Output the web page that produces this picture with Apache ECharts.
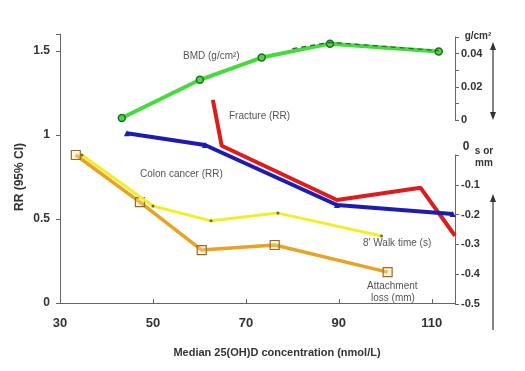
<!DOCTYPE html>
<html>
<head>
<meta charset="utf-8">
<script src="https://cdn.jsdelivr.net/npm/echarts@6/dist/echarts.min.js"></script>
<style>html,body{margin:0;padding:0;background:#fff}#c{width:525px;height:371px}</style>
</head>
<body>
<div id="c"></div>
<script>
// ---- data ----
const xTicks = [30, 50, 70, 90, 110];
const rrTicks = [0, 0.5, 1, 1.5];
const bmdTicks = [0, 0.02, 0.04];
const smmTicks = [-0.1, -0.2, -0.3, -0.4, -0.5];

const bmdX = [43.3, 60.1, 73.4, 88.1, 111.5];
const bmdY = [0.0012, 0.0242, 0.0376, 0.046, 0.0412];
const bmdDashX = [80, 88.1, 111.5];
const bmdDashY = [0.043, 0.0468, 0.0418];

const colonX = [44.4, 61.2, 89.6, 114.5];
const colonY = [1.01, 0.94, 0.583, 0.53];

const fractureX = [62.9, 64.8, 89.6, 107.6, 115];
const fractureY = [1.208, 0.935, 0.613, 0.685, 0.40];

const walkX = [34.7, 50.0, 62.5, 76.9, 99.2];
const walkY = [0.0, -0.171, -0.221, -0.195, -0.272];

const attachX = [33.4, 47.2, 60.5, 76.2, 100.5];
const attachY = [0.0, -0.158, -0.319, -0.302, -0.393];

const pair = (xs, ys) => xs.map((x, i) => [x, ys[i]]);
const near = (v, arr) => arr.some(t => Math.abs(t - v) < 1e-6);

const FONT = 'Liberation Sans';
const AX = '#666';
const TXT = '#333';

const chart = echarts.init(document.getElementById('c'), null, {renderer: 'canvas'});

const arrowLine = (x, y1, y2, up, down) => {
  const els = [{type: 'line', shape: {x1: x, y1: y1, x2: x, y2: y2}, style: {stroke: '#333', lineWidth: 1.2}}];
  if (up) els.push({type: 'polygon', shape: {points: [[x, y1 - 2], [x - 3, y1 + 6], [x + 3, y1 + 6]]}, style: {fill: '#333'}});
  if (down) els.push({type: 'polygon', shape: {points: [[x, y2 + 2], [x - 3, y2 - 6], [x + 3, y2 - 6]]}, style: {fill: '#333'}});
  return els;
};

const lbl = (text, x, y, opts) => Object.assign({
  type: 'text', left: x, top: y,
  style: {text: text, fill: '#555', font: '10px "' + FONT + '"'}
}, opts || {});

chart.setOption({
  animation: false,
  backgroundColor: '#fff',
  grid: [
    {left: 60, right: 70, top: 34, bottom: 68},
    {left: 60, right: 70, top: 37, height: 83},
    {left: 60, right: 70, top: 155, bottom: 67}
  ],
  xAxis: [
    {
      gridIndex: 0, type: 'value', min: 30, max: 115, interval: 20,
      axisLine: {lineStyle: {color: AX}},
      axisTick: {inside: true, length: 4, lineStyle: {color: AX}},
      splitLine: {show: false},
      axisLabel: {
        margin: 14, color: TXT, fontFamily: FONT, fontWeight: 'bold', fontSize: 13,
        formatter: v => near(v, xTicks) ? String(v) : ''
      }
    },
    {gridIndex: 1, type: 'value', min: 30, max: 115, show: false},
    {gridIndex: 2, type: 'value', min: 30, max: 115, show: false}
  ],
  yAxis: [
    {
      gridIndex: 0, type: 'value', min: 0, max: 1.6, interval: 0.5, position: 'left',
      axisLine: {show: true, lineStyle: {color: AX}},
      axisTick: {show: true, length: 4, lineStyle: {color: AX}},
      splitLine: {show: false},
      axisLabel: {
        margin: 10, color: TXT, fontFamily: FONT, fontWeight: 'bold', fontSize: 12,
        formatter: v => near(v, rrTicks) ? String(v) : ''
      }
    },
    {
      gridIndex: 1, type: 'value', min: 0, max: 0.05, interval: 0.01, position: 'right',
      axisLine: {show: true, lineStyle: {color: AX}},
      axisTick: {show: true, length: 4, lineStyle: {color: AX}},
      splitLine: {show: false},
      axisLabel: {
        margin: 6, color: TXT, fontFamily: FONT, fontWeight: 'bold', fontSize: 11,
        formatter: v => near(v, bmdTicks) ? (v === 0 ? '0' : v.toFixed(2)) : ''
      }
    },
    {
      gridIndex: 2, type: 'value', min: -0.5, max: 0, interval: 0.1, position: 'right',
      axisLine: {show: true, lineStyle: {color: AX}},
      axisTick: {show: true, length: 4, lineStyle: {color: AX}},
      splitLine: {show: false},
      axisLabel: {
        margin: 6, color: TXT, fontFamily: FONT, fontWeight: 'bold', fontSize: 11,
        formatter: v => near(v, smmTicks) ? v.toFixed(1) : ''
      }
    }
  ],
  series: [
    {
      name: 'BMD', type: 'line', xAxisIndex: 1, yAxisIndex: 1, data: pair(bmdX, bmdY),
      lineStyle: {color: '#44dc3c', width: 4}, itemStyle: {color: '#44dc3c', borderColor: '#236b23', borderWidth: 1.5},
      symbol: 'circle', symbolSize: 7, z: 3
    },
    {
      name: 'BMD dashed', type: 'line', xAxisIndex: 1, yAxisIndex: 1, data: pair(bmdDashX, bmdDashY),
      lineStyle: {color: '#3a5a3a', width: 1.2, type: [5, 4]}, symbol: 'none', z: 4
    },
    {
      name: 'Fracture', type: 'line', xAxisIndex: 0, yAxisIndex: 0, data: pair(fractureX, fractureY),
      lineStyle: {color: '#e01b1b', width: 4}, itemStyle: {color: '#e01b1b'},
      symbol: 'none', z: 2
    },
    {
      name: 'Colon cancer', type: 'line', xAxisIndex: 0, yAxisIndex: 0, data: pair(colonX, colonY),
      lineStyle: {color: '#1c1cb4', width: 4}, itemStyle: {color: '#1c1cb4'},
      symbol: 'triangle', symbolSize: 6, z: 3
    },
    {
      name: 'Walk', type: 'line', xAxisIndex: 2, yAxisIndex: 2, data: pair(walkX, walkY),
      lineStyle: {color: '#f2ee2a', width: 3}, itemStyle: {color: '#6b6b20'},
      symbol: 'circle', symbolSize: 3, z: 3
    },
    {
      name: 'Attachment', type: 'line', xAxisIndex: 2, yAxisIndex: 2, data: pair(attachX, attachY),
      lineStyle: {color: '#e8a324', width: 3.5}, itemStyle: {color: 'rgba(255,230,160,0.3)', borderColor: '#9a6a20', borderWidth: 1.2},
      symbol: 'rect', symbolSize: 9, z: 2
    }
  ],
  graphic: [
    {
      type: 'text', x: 20, y: 177, rotation: Math.PI / 2,
      style: {text: 'RR (95% CI)', fill: TXT, font: 'bold 12px "' + FONT + '"', align: 'center', verticalAlign: 'middle'}
    },
    {
      type: 'text', x: 277, y: 353,
      style: {text: 'Median 25(OH)D concentration (nmol/L)', fill: TXT, font: 'bold 11px "' + FONT + '"', align: 'center', verticalAlign: 'middle'}
    },
    {type: 'text', x: 478, y: 36, style: {text: 'g/cm²', fill: TXT, font: 'bold 10px "' + FONT + '"', align: 'center', verticalAlign: 'middle'}},
    {type: 'text', x: 466, y: 147, style: {text: '0', fill: TXT, font: 'bold 12px "' + FONT + '"', align: 'center', verticalAlign: 'middle'}},
    {type: 'text', x: 484, y: 151, style: {text: 's or', fill: TXT, font: 'bold 10px "' + FONT + '"', align: 'center', verticalAlign: 'middle'}},
    {type: 'text', x: 484, y: 163, style: {text: 'mm', fill: TXT, font: 'bold 10px "' + FONT + '"', align: 'center', verticalAlign: 'middle'}},
    ...arrowLine(493, 44, 118, true, true),
    ...arrowLine(493, 196, 330, true, false),
    lbl('BMD (g/cm²)', 183, 51),
    lbl('Fracture (RR)', 229, 111),
    lbl('Colon cancer (RR)', 140, 169),
    lbl("8' Walk time (s)", 363, 238),
    lbl('Attachment', 367, 281),
    lbl('loss (mm)', 371, 293)
  ]
});
</script>
</body>
</html>
